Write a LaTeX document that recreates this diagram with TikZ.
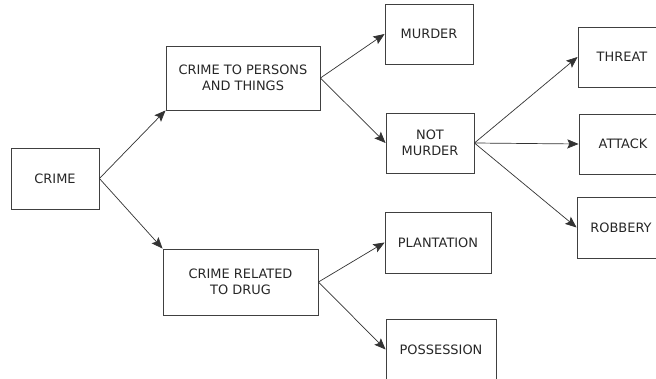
\documentclass[tikz,border=0pt]{standalone}
\usepackage{fontspec}
\setmainfont{DejaVu Sans}
\usetikzlibrary{arrows.meta}
\tikzset{
  crimebox/.style={draw=black!75, line width=0.6pt, align=center, inner sep=2pt,
    font=\fontsize{9.2}{11.6}\selectfont, text=black!85},
  link/.style={draw=black!80, line width=0.5pt, -{Stealth[length=8pt,width=6.5pt,inset=1.5pt]}}
}
\begin{document}
\begin{tikzpicture}[x=0.025cm, y=-0.025cm]
  \useasboundingbox (0,0) rectangle (656,379);

  \node[crimebox, minimum width=2.2cm, minimum height=1.525cm] (crime) at (55,178.5) {CRIME};

  \node[crimebox, minimum width=3.85cm, minimum height=1.6cm] (persons) at (243,78) {CRIME TO PERSONS\\AND THINGS};
  \node[crimebox, minimum width=3.875cm, minimum height=1.65cm] (drug) at (240.5,282) {CRIME RELATED\\TO DRUG};

  \node[crimebox, minimum width=2.2cm, minimum height=1.5cm] (murder) at (429,34) {MURDER};
  \node[crimebox, minimum width=2.2cm, minimum height=1.5cm] (notmurder) at (430,143) {NOT\\MURDER};
  \node[crimebox, minimum width=2.65cm, minimum height=1.525cm] (plantation) at (438,242.5) {PLANTATION};
  \node[crimebox, minimum width=2.75cm, minimum height=1.525cm] (possession) at (441,349.5) {POSSESSION};

  \node[crimebox, minimum width=2.2cm, minimum height=1.5cm] (threat) at (622,57) {THREAT};
  \node[crimebox, minimum width=2.2cm, minimum height=1.5cm] (attack) at (623,144) {ATTACK};
  \node[crimebox, minimum width=2.2cm, minimum height=1.525cm] (robbery) at (621,227.5) {ROBBERY};

  \draw[link] (crime.east) -- (persons.south west);
  \draw[link] (crime.east) -- (drug.north west);

  \draw[link] (persons.east) -- (murder.west);
  \draw[link] (persons.east) -- (notmurder.west);

  \draw[link] (drug.east) -- (plantation.west);
  \draw[link] (drug.east) -- (possession.west);

  \draw[link] (notmurder.east) -- (threat.west);
  \draw[link] (notmurder.east) -- (attack.west);
  \draw[link] (notmurder.east) -- (robbery.west);
\end{tikzpicture}
\end{document}
